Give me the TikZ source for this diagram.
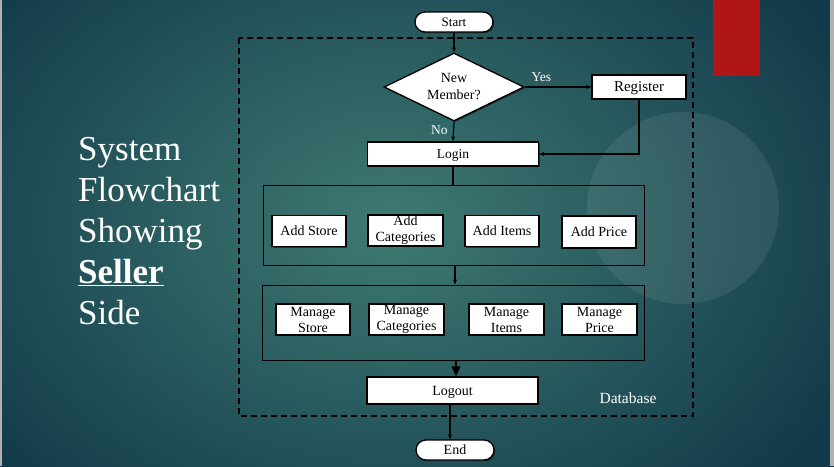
\documentclass[tikz,border=0pt]{standalone}
\usepackage{fontspec}
\setmainfont{Liberation Serif}
\usetikzlibrary{shapes.geometric,arrows.meta,shadows}
\definecolor{bgin}{HTML}{3E7A72}
\definecolor{bgout}{HTML}{123A4A}
\definecolor{redbar}{HTML}{B01616}
\tikzset{
  box/.style={draw=black, line width=1.3pt, fill=white, text=black, align=center,
    inner sep=0pt, font=\fontsize{14}{16}\selectfont,
    drop shadow={shadow xshift=1.2pt, shadow yshift=-1.2pt, opacity=0.5, fill=black}},
  one/.style={text depth=0pt},
  pill/.style={box, one, rounded corners=10pt},
  grp/.style={draw=black, line width=1pt, inner sep=0pt},
  conn/.style={draw=black, line width=1.2pt},
  arr/.style={conn, -{Stealth[length=5pt,width=4pt]}},
  lbl/.style={text=white, font=\fontsize{13.5}{13.5}\selectfont},
}
\begin{document}
\begin{tikzpicture}[x=1pt,y=-1pt]
\useasboundingbox (0,0) rectangle (834,466);
% background
\shade[inner color=bgin, outer color=bgout] (-120,-150) rectangle (900,600);
\fill[gray!60] (0,0) rectangle (2,466);
\fill[gray!60] (830,0) rectangle (834,466);
\fill[white, opacity=0.08] (683,208) circle (96);
\fill[redbar] (713,0) rectangle (760,76);
% title
\node[anchor=west, inner sep=0pt, text=white, align=left, font=\fontsize{35}{41}\selectfont] (title) at (78,231)
  {System\\Flowchart\\Showing\\\textbf{\underline{Seller}}\\Side};
% database region
\draw[black, line width=1.4pt, dash pattern=on 6pt off 4pt] (239,38) rectangle (693,416);
\node[lbl, font=\fontsize{15.5}{15.5}\selectfont] (db) at (628,398) {Database};
% nodes
\node[pill, minimum width=78pt, minimum height=20pt, font=\fontsize{13}{13}\selectfont] (start) at (454,22) {Start};
\node[box, diamond, aspect=2.06, minimum width=140pt, minimum height=68pt,
  font=\fontsize{14}{17}\selectfont] (dia) at (454,87) {New\\Member?};
\node[box, one, minimum width=94pt, minimum height=24pt, font=\fontsize{15}{15}\selectfont] (reg) at (639,87) {Register};
\node[box, one, minimum width=171pt, minimum height=24pt, font=\fontsize{13.5}{13.5}\selectfont] (login) at (453,154) {Login};
\node[grp, minimum width=381pt, minimum height=80pt] (g1) at (453.5,225) {};
\node[box, one, minimum width=74pt, minimum height=31pt] (as) at (309,231) {Add Store};
\node[box, minimum width=75pt, minimum height=31pt] (ac) at (405.5,230.5) {Add\\Categories};
\node[box, one, minimum width=74pt, minimum height=31pt] (ai) at (502,231) {Add Items};
\node[box, one, minimum width=74pt, minimum height=32pt] (ap) at (599,232) {Add Price};
\node[grp, minimum width=382pt, minimum height=75pt] (g2) at (453,322.5) {};
\node[box, minimum width=74pt, minimum height=31pt] (ms) at (313,319.5) {Manage\\Store};
\node[box, minimum width=75pt, minimum height=31pt] (mc) at (406.5,319.5) {Manage\\Categories};
\node[box, minimum width=75pt, minimum height=31pt] (mi) at (506.5,319.5) {Manage\\Items};
\node[box, minimum width=75pt, minimum height=31pt] (mp) at (599.5,319.5) {Manage\\Price};
\node[box, one, minimum width=171pt, minimum height=27pt] (logout) at (452.5,390.5) {Logout};
\node[pill, minimum width=78pt, minimum height=20pt] (end) at (455,450) {End};
% connectors
\draw[arr] (start.south) -- (dia.north);
\draw[arr] (dia.east) -- node[lbl, above=1pt, pos=0.25] (yes) {Yes} (reg.west);
\draw[arr] (dia.south) -- node[lbl, left=2pt, pos=0.45] (no) {No} (login.north);
\draw[arr] (reg.south) |- (login.east);
\draw[conn] (login.south) -- (login.south |- g1.north);
\draw[arr] (g1.south -| 455,0) -- (g2.north -| 455,0);
\draw[conn, -{Triangle[length=10pt,width=9pt]}] (g2.south -| 456,0) -- (logout.north -| 456,0);
\draw[arr] (logout.south -| 450,0) -- (end.north -| 450,0);
\end{tikzpicture}
\end{document}
